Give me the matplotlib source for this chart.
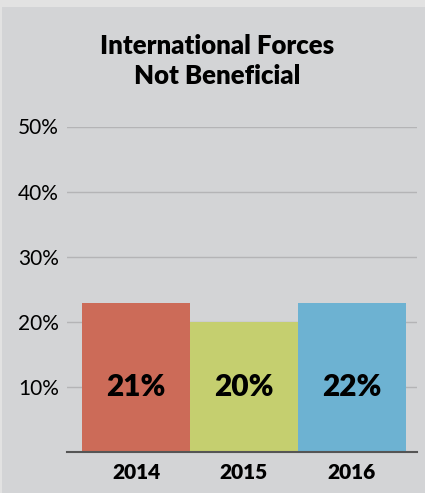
import matplotlib.pyplot as plt
from matplotlib.patches import Rectangle

years = ["2014", "2015", "2016"]
values = [22.9, 20.0, 22.9]
bar_labels = ["21%", "20%", "22%"]
colors = ["#cc6b58", "#c5cf6f", "#6db2d2"]
y_ticks = [10, 20, 30, 40, 50]

plt.rcParams['font.family'] = ['Lato', 'DejaVu Sans']

fig = plt.figure(figsize=(4.25, 4.93), dpi=100)
fig.patch.set_facecolor("#e2e2e2")
# inner panel
fig.patches.append(Rectangle((2 / 425, 0), 1, 1 - 7 / 493, transform=fig.transFigure,
                             facecolor="#d3d4d6", edgecolor="none", zorder=-10))

ax = fig.add_axes([67 / 425, 41.3 / 493, 350 / 425, 325.2 / 493])
ax.set_zorder(5)
ax.set_facecolor("none")

x = range(len(years))
ax.bar(x, values, width=1.0, color=colors, zorder=2)
for i, lab in enumerate(bar_labels):
    ax.text(i, 10, lab, ha="center", va="center", fontsize=21.5, fontweight="heavy", color="black", zorder=3)

ax.set_xlim(-0.639, 2.602)
ax.set_ylim(0, 50)
ax.set_yticks(y_ticks)
ax.set_yticklabels([f"{t}%" for t in y_ticks], fontsize=15)
ax.set_xticks(list(x))
ax.set_xticklabels(years, fontsize=15, fontweight="heavy")
ax.tick_params(axis="both", length=0)
ax.tick_params(axis="y", pad=6)
ax.tick_params(axis="x", pad=8)
ax.grid(axis="y", color="#b4b4b6", linewidth=1, zorder=1)
ax.set_axisbelow(True)
for s in ["top", "right", "left"]:
    ax.spines[s].set_visible(False)
ax.spines["bottom"].set_color("#555555")
ax.spines["bottom"].set_linewidth(1.5)
ax.spines["bottom"].set_zorder(4)

fig.text(217 / 425, 1 - 61 / 493, "International Forces\nNot Beneficial", ha="center", va="center",
         fontsize=18.5, fontweight="heavy", linespacing=1.3)

fig.savefig("out.png", dpi=100, facecolor=fig.get_facecolor())
